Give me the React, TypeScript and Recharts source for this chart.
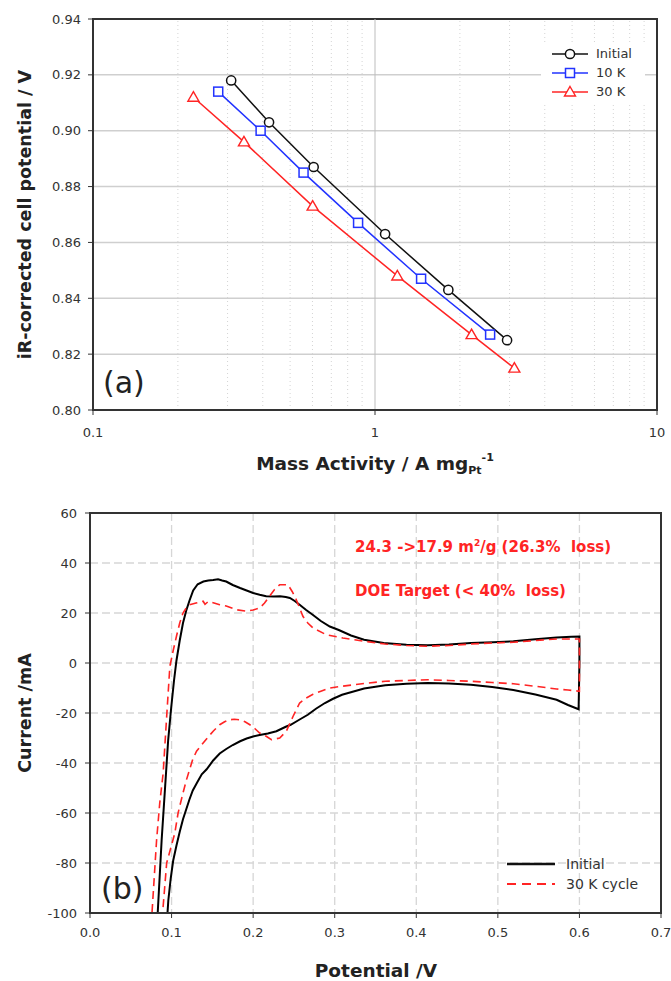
// Two-panel figure: (a) Tafel-style mass activity plot, (b) CV before/after 30 K cycles
import { LineChart, Line, XAxis, YAxis, CartesianGrid, ReferenceLine, ReferenceArea, Legend } from 'recharts'

const SANS = '"DejaVu Sans", "Liberation Sans", Arial, sans-serif'

// ---- panel (a) data ----
const seriesNames = ['Initial', '10 K', '30 K']
const massInitial = [0.309, 0.421, 0.606, 1.086, 1.82, 2.94]
const voltInitial = [0.918, 0.903, 0.887, 0.863, 0.843, 0.825]
const mass10k = [0.278, 0.393, 0.558, 0.871, 1.457, 2.56]
const volt10k = [0.914, 0.9, 0.885, 0.867, 0.847, 0.827]
const mass30k = [0.227, 0.343, 0.601, 1.2, 2.2, 3.12]
const volt30k = [0.912, 0.896, 0.873, 0.848, 0.827, 0.815]
const massTicks = [0.1, 1, 10]
const massMinor = [0.2, 0.3, 0.4, 0.5, 0.6, 0.7, 0.8, 0.9, 2, 3, 4, 5, 6, 7, 8, 9]
const voltTicks = [0.8, 0.82, 0.84, 0.86, 0.88, 0.9, 0.92, 0.94]

// ---- panel (b) data: [potential V, current mA], sweep order ----
const cvNames = ['Initial', '30 K cycle']
const cvInitial = [
  [0.0815, -110], [0.083, -100], [0.0878, -71], [0.092, -50], [0.0958, -31], [0.0995, -18],
  [0.103, -7], [0.106, 1], [0.11, 9], [0.114, 16], [0.118, 21], [0.122, 25], [0.1265, 29],
  [0.132, 31.5], [0.139, 32.6], [0.145, 33], [0.151, 33.2], [0.157, 33.5], [0.162, 33],
  [0.167, 32.6], [0.175, 31.2], [0.184, 30], [0.192, 29], [0.2, 28], [0.208, 27.3],
  [0.216, 26.7], [0.225, 26.6], [0.233, 26.7], [0.24, 26.4], [0.245, 26], [0.251, 24.8],
  [0.257, 23.3], [0.265, 21.2], [0.273, 19.3], [0.283, 16.8], [0.294, 14.6], [0.305, 13.2],
  [0.32, 11], [0.336, 9.3], [0.36, 8], [0.388, 7.3], [0.414, 7.1], [0.44, 7.4], [0.467, 8],
  [0.494, 8.3], [0.519, 8.7], [0.546, 9.5], [0.572, 10.2], [0.59, 10.5], [0.6, 10.6],
  [0.6, 0], [0.599, -18.5], [0.586, -16.8], [0.572, -14.7], [0.546, -12.6], [0.519, -10.8],
  [0.493, -9.6], [0.467, -8.7], [0.44, -8.2], [0.414, -8], [0.388, -8.3], [0.362, -8.9],
  [0.336, -10.2], [0.309, -12.7], [0.298, -14.3], [0.288, -16], [0.277, -18.3], [0.267, -20.7],
  [0.256, -22.8], [0.246, -24.7], [0.24, -25.5], [0.2285, -27.3], [0.218, -28.2], [0.208, -28.8],
  [0.2, -29.4], [0.192, -30.2], [0.184, -31.3], [0.175, -32.8], [0.167, -34.4], [0.159, -36.2],
  [0.151, -39], [0.143, -42.5], [0.137, -44.5], [0.131, -48], [0.126, -51], [0.122, -54.5],
  [0.118, -58.5], [0.114, -62.5], [0.11, -67.5], [0.106, -73], [0.102, -79], [0.099, -86],
  [0.096, -95], [0.095, -100], [0.094, -110],
]
const cv30k = [
  [0.0745, -110], [0.076, -100], [0.0816, -71], [0.0855, -56], [0.0897, -44], [0.0935, -24],
  [0.0979, -1.3], [0.102, 5], [0.106, 10.7], [0.11, 16], [0.114, 20], [0.118, 22], [0.122, 23.3],
  [0.13, 24], [0.1387, 24.7], [0.141, 23.5], [0.145, 24.6], [0.152, 24], [0.159, 23.3],
  [0.167, 22.8], [0.1795, 21.3], [0.1918, 20.7], [0.2, 21.2], [0.208, 22], [0.214, 24],
  [0.22, 26.7], [0.226, 29.3], [0.2326, 31.3], [0.2427, 31.3], [0.248, 28.5], [0.2529, 25.3],
  [0.257, 22], [0.261, 18.7], [0.267, 16], [0.2734, 14], [0.2897, 11.3], [0.31, 10],
  [0.336, 8.7], [0.362, 7.6], [0.388, 7], [0.414, 6.7], [0.44, 7], [0.467, 7.6], [0.493, 8],
  [0.519, 8.3], [0.546, 9], [0.572, 9.6], [0.6, 9.6], [0.6, 0], [0.6, -11.3], [0.586, -10.8],
  [0.572, -10.4], [0.546, -9.3], [0.519, -8.3], [0.493, -7.8], [0.467, -7.3], [0.44, -7],
  [0.414, -6.7], [0.388, -7], [0.362, -7.3], [0.336, -8.2], [0.309, -9.3], [0.2938, -10],
  [0.283, -11.3], [0.2734, -12.5], [0.265, -14], [0.257, -16], [0.249, -21.3], [0.2407, -27.3],
  [0.2326, -30], [0.2224, -30.7], [0.216, -29.3], [0.208, -28], [0.202, -26.2], [0.196, -24.7],
  [0.19, -23.5], [0.1836, -22.7], [0.177, -22.5], [0.171, -22.7], [0.165, -23.5], [0.159, -24.7],
  [0.151, -27.3], [0.145, -29.5], [0.1387, -32], [0.1306, -35.3], [0.126, -38.5], [0.122, -42.7],
  [0.118, -47], [0.114, -52], [0.108, -60], [0.104, -68], [0.099, -74], [0.094, -80],
  [0.0915, -90], [0.089, -100], [0.088, -110],
]
const potentialTicks = [0, 0.1, 0.2, 0.3, 0.4, 0.5, 0.6, 0.7]
const currentTicks = [-100, -80, -60, -40, -20, 0, 20, 40, 60]

const BLACK = '#111'
const BLUE = '#2233ff'
const RED = '#ff2424'
const tafelColors = [BLACK, BLUE, RED]
const tafelShapes = ['circle', 'square', 'triangle']

const toPts = (xs: number[], ys: number[]) => xs.map((x, i) => ({ x, y: ys[i] }))
const toCv = (rows: number[][]) => rows.map(([v, i]) => ({ v, i }))

function marker(shape: string, cx: number, cy: number, color: string, key?: string) {
  if (shape === 'circle') return <circle key={key} cx={cx} cy={cy} r={4.6} fill="#fff" stroke={color} strokeWidth={1.5} />
  if (shape === 'square') return <rect key={key} x={cx - 4.5} y={cy - 4.5} width={9} height={9} fill="#fff" stroke={color} strokeWidth={1.5} />
  return <polygon key={key} points={`${cx},${cy - 5.5} ${cx + 5.5},${cy + 4} ${cx - 5.5},${cy + 4}`} fill="#fff" stroke={color} strokeWidth={1.4} />
}

const dotFor = (shape: string, color: string) => (p: any) => {
  if (p.cx == null || p.cy == null) return <g key={`e${p.index}`} />
  return marker(shape, p.cx, p.cy, color, `${shape}${p.index}`)
}

const tickStyle = { fontSize: 13, fill: '#333', fontFamily: SANS }
const axisStyle = { stroke: '#333', strokeWidth: 2 }

const TafelLegend = () => (
  <div style={{ background: '#fff', paddingLeft: 11, paddingTop: 1, paddingBottom: 1 }}>
    {seriesNames.map((name, k) => (
      <div key={name} style={{ display: 'flex', alignItems: 'center', height: 19 }}>
        <svg width={36} height={14}>
          <line x1={0} y1={7} x2={36} y2={7} stroke={tafelColors[k]} strokeWidth={1.5} />
          {marker(tafelShapes[k], 18, 7, tafelColors[k])}
        </svg>
        <span style={{ marginLeft: 8, fontSize: 13, color: '#333', fontFamily: SANS }}>{name}</span>
      </div>
    ))}
  </div>
)

const CvLegend = () => (
  <div>
    {cvNames.map((name, k) => (
      <div key={name} style={{ display: 'flex', alignItems: 'center', height: 20 }}>
        <svg width={48} height={10}>
          <line x1={0} y1={5} x2={48} y2={5} stroke={k === 0 ? BLACK : RED} strokeWidth={k === 0 ? 2.5 : 2} strokeDasharray={k === 0 ? undefined : '9 6'} />
        </svg>
        <span style={{ marginLeft: 11, fontSize: 14, color: '#333', fontFamily: SANS }}>{name}</span>
      </div>
    ))}
  </div>
)

const titleStyle = { fontFamily: SANS, fontWeight: 700, fill: '#222' }

const MassTitle = () => (
  <text x={375} y={470} textAnchor="middle" fontSize={18.5} style={titleStyle}>
    Mass Activity / A mg
    <tspan fontSize={11} dy={4}>Pt</tspan>
    <tspan fontSize={11} dy={-13}>-1</tspan>
  </text>
)
const PotentialTitle = () => (
  <text x={376} y={497} textAnchor="middle" fontSize={18.5} style={titleStyle}>Potential /V</text>
)
const rotTitle = (text: string, cy: number) => () => (
  <text x={31} y={cy} transform={`rotate(-90 31 ${cy})`} textAnchor="middle" fontSize={17.5} style={titleStyle}>{text}</text>
)

const overlay = (left: number, top: number, size: number, extra: any = {}) => ({
  position: 'absolute' as const, left, top, fontSize: size, lineHeight: `${size}px`, fontFamily: SANS, whiteSpace: 'pre' as const, ...extra,
})

export default function App() {
  return (
    <div style={{ position: 'absolute', left: 0, top: 0, width: 671, height: 981, background: '#fff' }}>
      <LineChart width={671} height={480} margin={{ top: 19, right: 14, bottom: 40, left: 43 }}>
        <CartesianGrid vertical={false} stroke="#cfcfcf" strokeWidth={1.5} />
        {massMinor.map((m) => (
          <ReferenceLine key={m} x={m} stroke="#d4d4d4" strokeDasharray="1 3" />
        ))}
        <ReferenceLine x={1} stroke="#bdbdbd" strokeWidth={1} />
        <ReferenceArea x1={0.1} x2={10} y1={0.8} y2={0.94} fill="none" stroke="#333" strokeWidth={2} />
        <XAxis dataKey="x" type="number" scale="log" domain={[0.1, 10]} ticks={massTicks} allowDataOverflow
          tickFormatter={(v) => `${v}`} tick={tickStyle} tickSize={5} tickMargin={13}
          axisLine={axisStyle} tickLine={{ stroke: '#333' }} height={30} label={MassTitle} />
        <YAxis type="number" domain={[0.8, 0.94]} ticks={voltTicks} allowDataOverflow width={50}
          tickFormatter={(v) => v.toFixed(2)} tick={tickStyle} tickSize={5} tickMargin={7}
          axisLine={axisStyle} tickLine={{ stroke: '#333' }} label={rotTitle('iR-corrected cell potential / V', 214.6)} />
        <Line data={toPts(massInitial, voltInitial)} dataKey="y" name={seriesNames[0]} stroke={BLACK} strokeWidth={1.5}
          dot={dotFor('circle', BLACK)} isAnimationActive={false} />
        <Line data={toPts(mass10k, volt10k)} dataKey="y" name={seriesNames[1]} stroke={BLUE} strokeWidth={1.5}
          dot={dotFor('square', BLUE)} isAnimationActive={false} />
        <Line data={toPts(mass30k, volt30k)} dataKey="y" name={seriesNames[2]} stroke={RED} strokeWidth={1.5}
          dot={dotFor('triangle', RED)} isAnimationActive={false} />
        <Legend layout="vertical" align="center" verticalAlign="middle" content={TafelLegend}
          wrapperStyle={{ left: 541, top: 43, width: 104 }} />
      </LineChart>

      <LineChart width={671} height={501} margin={{ top: 33, right: 10, bottom: 38, left: 40 }}>
        <CartesianGrid stroke="#d6d6d6" strokeWidth={1.3} strokeDasharray="8 4" />
        <ReferenceArea x1={0} x2={0.7} y1={-100} y2={60} fill="none" stroke="#333" strokeWidth={2} />
        <XAxis dataKey="v" type="number" domain={[0, 0.7]} ticks={potentialTicks} allowDataOverflow
          tickFormatter={(v) => v.toFixed(1)} tick={tickStyle} tickSize={5} tickMargin={10}
          axisLine={axisStyle} tickLine={{ stroke: '#333' }} height={30} label={PotentialTitle} />
        <YAxis type="number" domain={[-100, 60]} ticks={currentTicks} allowDataOverflow width={50}
          tick={tickStyle} tickSize={5} tickMargin={8}
          axisLine={axisStyle} tickLine={{ stroke: '#333' }} label={rotTitle('Current /mA', 233)} />
        <Line data={toCv(cvInitial)} dataKey="i" name={cvNames[0]} stroke="#000" strokeWidth={2}
          dot={false} isAnimationActive={false} />
        <Line data={toCv(cv30k)} dataKey="i" name={cvNames[1]} stroke={RED} strokeWidth={1.6} strokeDasharray="8 5"
          dot={false} isAnimationActive={false} />
        <Legend layout="vertical" align="center" verticalAlign="middle" content={CvLegend}
          wrapperStyle={{ left: 507, top: 374, width: 150 }} />
      </LineChart>

      <div style={overlay(103, 367.6, 30, { color: '#222' })}>(a)</div>
      <div style={overlay(101, 873.6, 30, { color: '#222' })}>(b)</div>
      <div style={overlay(355, 540.3, 15, { color: RED, fontWeight: 700 })}>
        24.3 -&gt;17.9 m<sup style={{ fontSize: 9, lineHeight: 0, verticalAlign: 6 }}>2</sup>/g (26.3%  loss)
      </div>
      <div style={overlay(355, 583.8, 15, { color: RED, fontWeight: 700 })}>DOE Target (&lt; 40%  loss)</div>
    </div>
  )
}
